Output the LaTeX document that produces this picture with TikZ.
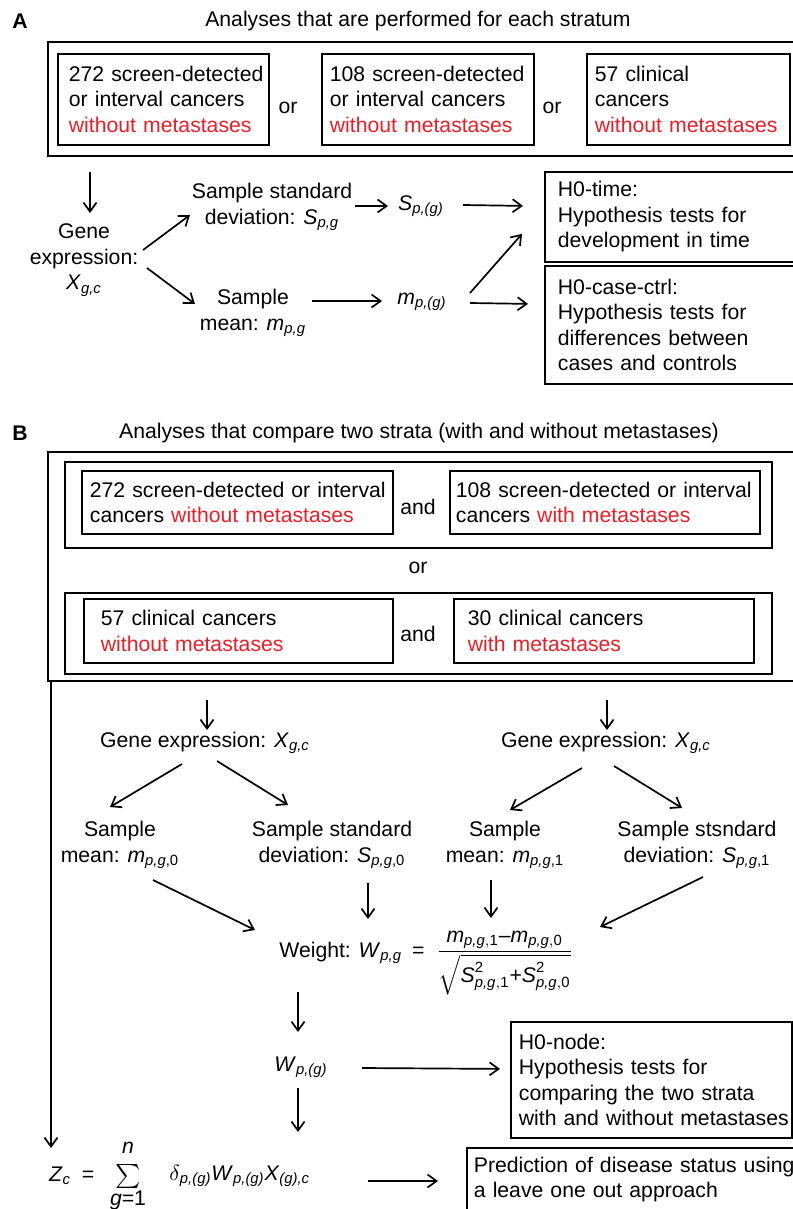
\documentclass[tikz,border=0pt]{standalone}
\usepackage{amsmath}
\usepackage{fontspec}
\setmainfont{Liberation Sans}
\usetikzlibrary{calc,arrows.meta}
\definecolor{metred}{RGB}{235,30,40}
\tikzset{
  arr/.style={-{Straight Barb[length=4.5pt,width=6.5pt]}, line width=0.85pt},
  frame/.style={draw, line width=0.9pt, anchor=north west, inner sep=0pt},
  tbox/.style={draw, line width=0.9pt, anchor=north west, align=left, inner ysep=0pt},
  txt/.style={align=center, inner sep=1pt}
}
\newcommand{\red}[1]{\textcolor{metred}{#1}}
\newcommand{\iv}[2]{\textit{#1}\textsubscript{\textit{#2}}}
\newcommand{\ivn}[3]{\textit{#1}\textsubscript{\textit{#2},#3}}

\begin{document}
\begin{tikzpicture}[x=0.5pt,y=-0.5pt,font=\fontsize{10.6}{12.8}\selectfont]
\useasboundingbox[fill=white] (0,0) rectangle (792,1209);

% Panel A: one stratum
\node[txt,font=\fontsize{10.6}{12.8}\selectfont\bfseries] (labA) at (20,21) {A};
\node[txt] (titleA) at (418,21) {Analyses that are performed for each stratum};
\node[frame, minimum width=376.5pt, minimum height=57pt] (frameA) at (47,41) {};
\node[tbox, inner xsep=5.5pt, text width=94.5pt, minimum height=45.5pt] (a1) at (57,53)
  {\mbox{272 screen-detected}\\\mbox{or interval cancers}\\\red{\mbox{without metastases}}};
\node[txt] (orA1) at (288,108) {or};
\node[tbox, inner xsep=4pt, text width=98pt, minimum height=45.5pt] (a2) at (321,53)
  {\mbox{108 screen-detected}\\\mbox{or interval cancers}\\\red{\mbox{without metastases}}};
\node[txt] (orA2) at (552,108) {or};
\node[tbox, inner xsep=4pt, text width=93.5pt, minimum height=45.5pt] (a3) at (586,53)
  {57 clinical\\cancers\\\red{\mbox{without metastases}}};

\node[txt] (geneA) at (84,260) {Gene\\expression:\\\iv{X}{g,c}};
\node[txt] (sdA) at (272,207) {Sample standard\\deviation: \iv{S}{p,g}};
\node[txt] (meanA) at (253,313) {Sample\\mean: \iv{m}{p,g}};
\node[txt] (SA) at (421,206) {\iv{S}{p,(g)}};
\node[txt] (mA) at (422,302) {\iv{m}{p,(g)}};
\node[tbox, inner xsep=6.5pt, text width=115pt, minimum height=45pt] (h0time) at (544,171)
  {H0-time:\\Hypothesis tests for\\development in time};
\node[tbox, inner xsep=6.5pt, text width=115pt, minimum height=59pt] (h0cc) at (544,265)
  {H0-case-ctrl:\\Hypothesis tests for\\differences between\\cases and controls};

\draw[arr] ($(frameA.south -| geneA)+(6,15)$) -- ($(geneA)+(6,-47)$);
\draw[arr] ($(geneA)+(59,-10)$) -- ($(sdA)+(-82,8)$);
\draw[arr] ($(geneA)+(63,8)$) -- ($(meanA)+(-58,-9)$);
\draw[arr] ($(sdA)+(83,-1)$) -- ($(SA)+(-33,0)$);
\draw[arr] ($(SA)+(42,-1)$) -- ($(h0time.west)+(-21,-11)$);
\draw[arr] ($(meanA)+(59,-12)$) -- ($(mA)+(-40,-1)$);
\draw[arr] ($(mA)+(48,-9)$) -- ($(h0time.west)+(-22,17)$);
\draw[arr] ($(mA)+(48,1)$) -- ($(h0cc.west)+(-16,-21)$);

% Panel B: two strata
\node[txt,font=\fontsize{10.6}{12.8}\selectfont\bfseries] (labB) at (20,433) {B};
\node[txt] (titleB) at (419,433) {Analyses that compare two strata (with and without metastases)};
\node[frame, minimum width=376.5pt, minimum height=114.5pt] (frameB) at (47,451) {};
\node[frame, minimum width=353.5pt, minimum height=43pt] (rowB1) at (64,461) {};
\node[tbox, inner xsep=4pt, text width=147.5pt, minimum height=31.5pt] (b1) at (81,470)
  {\mbox{272 screen-detected or interval}\\\mbox{cancers \red{without metastases}}};
\node[txt] (andB1) at (418,507) {and};
\node[tbox, inner xsep=3pt, text width=149pt, minimum height=31.5pt] (b2) at (449,470)
  {\mbox{108 screen-detected or interval}\\\mbox{cancers \red{with metastases}}};
\node[txt] (orB) at (418,568) {or};
\node[frame, minimum width=353.5pt, minimum height=40.5pt] (rowB2) at (64,592) {};
\node[tbox, inner xsep=8.5pt, text width=137.5pt, minimum height=32pt] (b3) at (83,598)
  {57 clinical cancers\\\red{without metastases}};
\node[txt] (andB2) at (418,634) {and};
\node[tbox, inner xsep=7pt, text width=136pt, minimum height=32pt] (b4) at (453,598)
  {30 clinical cancers\\\red{with metastases}};

\node[txt] (gene0) at (205,743) {Gene expression: \iv{X}{g,c}};
\node[txt] (gene1) at (606,743) {Gene expression: \iv{X}{g,c}};
\node[txt] (mean0) at (120,845) {Sample\\mean: \ivn{m}{p,g}{0}};
\node[txt] (sd0) at (332,845) {Sample standard\\deviation: \ivn{S}{p,g}{0}};
\node[txt] (mean1) at (505,845) {Sample\\mean: \ivn{m}{p,g}{1}};
\node[txt] (sd1) at (697,845) {Sample stsndard\\deviation: \ivn{S}{p,g}{1}};
\node[txt, anchor=base west] (weight) at (277,957)
  {Weight: \iv{W}{p,g}\hspace{5pt}=\hspace{6pt}$\dfrac{\textit{m}_{\textit{p,g},\text{1}}\text{--}\textit{m}_{\textit{p,g},\text{0}}}{\sqrt{\textit{S}^{\text{2}}_{\textit{p,g},\text{1}}\text{+}\textit{S}^{\text{2}}_{\textit{p,g},\text{0}}}}$};
\node[txt] (Wg) at (301,1067) {\iv{W}{p,(g)}};
\node[tbox, inner xsep=4pt, text width=132.5pt, minimum height=58pt] (h0node) at (510,1021)
  {H0-node:\\Hypothesis tests for\\comparing the two strata\\\mbox{with and without metastases}};

% Prediction score
\node[txt] (zc) at (60,1176) {\iv{Z}{c}};
\node[txt] (eqz) at (88,1176) {=};
\node[txt] (sumz) at (128,1176) {\fontsize{13}{13}\selectfont$\sum$};
\node[txt] (nlim) at (128,1148) {\textit{n}};
\node[txt] (glim) at (128,1200) {\textit{g}=1};
\node[txt, anchor=west] (zterm) at (167,1176)
  {$\delta$\textsubscript{\textit{p,(g)}}\iv{W}{p,(g)}\iv{X}{(g),c}};
\node[tbox, inner xsep=3.5pt, text width=163.5pt, minimum height=46pt] (pred) at (466,1147)
  {\mbox{Prediction of disease status using}\\a leave one out approach\\\strut};

\draw[arr] ($(frameB.south -| gene0)+(2,18)$) -- ($(gene0)+(2,-13)$);
\draw[arr] ($(frameB.south -| gene1)+(1,18)$) -- ($(gene1)+(1,-13)$);
\draw[arr] ($(gene0)+(-23,21)$) -- ($(mean0)+(-10,-38)$);
\draw[arr] ($(gene0)+(12,18)$) -- ($(sd0)+(-44,-40)$);
\draw[arr] ($(gene1)+(-24,25)$) -- ($(mean1)+(5,-35)$);
\draw[arr] ($(gene1)+(8,23)$) -- ($(sd1)+(-15,-37)$);
\draw[arr] ($(mean0)+(33,35)$) -- ($(weight.base west)+(-22,-27)$);
\draw[arr] ($(sd0)+(36,38)$) -- ($(weight.base west)+(91,-38)$);
\draw[arr] ($(mean1)+(-14,35)$) -- ($(weight.base west)+(214,-39)$);
\draw[arr] ($(sd1)+(6,32)$) -- ($(weight.base west)+(323,-30)$);
\draw[arr] ($(weight.base west)+(21,35)$) -- ($(Wg)+(-3,-35)$);
\draw[arr] ($(Wg)+(61,1)$) -- ($(h0node.west)+(-10,-11)$);
\draw[arr] ($(Wg)+(-3,21)$) -- ($(zterm.west)+(131,-44)$);
\draw[arr] ($(zterm.west)+(201,5)$) -- ($(pred.north west)+(-28,34)$);
\draw[arr] ($(frameB.south west)+(4,0)$) -- ($(zc)+(-9,-28)$);
\end{tikzpicture}
\end{document}
